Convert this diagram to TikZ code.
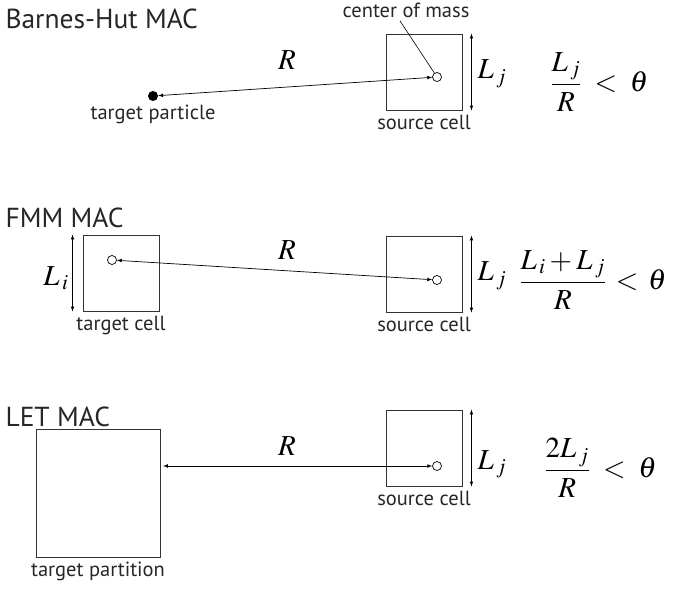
\documentclass[tikz,border=0pt]{standalone}
\usepackage{mathptmx}
\usepackage[no-math]{fontspec}
\setsansfont{PT Sans}
\usetikzlibrary{positioning}
\begin{document}
\begin{tikzpicture}[x=1pt,y=-1pt,>=latex,
    cell/.style={draw=black!80,line width=0.9pt,minimum size=76pt,inner sep=0pt},
    com/.style={draw,circle,line width=0.7pt,inner sep=0pt,minimum size=9pt},
    lbl/.style={font=\sffamily\fontsize{20.5}{22}\selectfont,text=black!85},
    ttl/.style={font=\sffamily\fontsize{27.5}{30}\selectfont,text=black!85,anchor=west},
    mth/.style={font=\fontsize{29}{32}\selectfont},
    dist/.style={<->,line width=0.7pt}]
  \useasboundingbox (0,0) rectangle (673,590);

  \node[ttl] (bhmac) at (2,19) {Barnes-Hut MAC};
  \node[cell] (src1) at (424,72) {};
  \node[com] (com1) at (437,77) {};
  \node[circle,fill,inner sep=0pt,minimum size=10pt] (tpart) at (153,96) {};
  \node[lbl,below=0pt of tpart] (tpartlbl) {target particle};
  \node[lbl,below=1pt of src1] (src1lbl) {source cell};
  \node[lbl] (comlbl) at (406,10) {center of mass};
  \draw[line width=0.6pt] ([xshift=-6pt]comlbl.south) -- (com1);
  \draw[dist] (tpart) -- (com1);
  \node[mth] (r1) at (287,60) {$R$};
  \draw[dist] ([xshift=9pt]src1.north east) -- ([xshift=9pt]src1.south east);
  \node[mth,anchor=west] (lj1) at (474,74) {$L_{\,j}$};
  \node[mth,anchor=west] (mac1) at (547,82) {$\displaystyle\frac{L_{\,j}}{R}\;<\;\theta$};

  \node[ttl] (fmmmac) at (2,218) {FMM MAC};
  \node[cell] (tgt2) at (121,273) {};
  \node[cell] (src2) at (424,274) {};
  \node[com] (com2a) at (112,260) {};
  \node[com] (com2b) at (437,280) {};
  \draw[dist] (com2a) -- (com2b);
  \draw[dist] ([xshift=-10pt]tgt2.north west) -- ([xshift=-10pt]tgt2.south west);
  \draw[dist] ([xshift=9pt]src2.north east) -- ([xshift=9pt]src2.south east);
  \node[mth,anchor=east] (li2) at (72,278) {$L_{\,i}$};
  \node[mth,anchor=west] (lj2) at (474,276) {$L_{\,j}$};
  \node[mth] (r2) at (287,250) {$R$};
  \node[lbl,below=1pt of tgt2] (tgt2lbl) {target cell};
  \node[lbl,below=1pt of src2] (src2lbl) {source cell};
  \node[mth,anchor=west] (mac2) at (516,280) {$\displaystyle\frac{L_{\,i}+L_{\,j}}{R}\,<\,\theta$};

  \node[ttl] (letmac) at (2,417) {LET MAC};
  \node[cell,minimum width=124pt,minimum height=128pt] (tpartn) at (98,493) {};
  \node[cell] (src3) at (424,448) {};
  \node[com] (com3) at (437,466) {};
  \coordinate (tpedge) at (163,466);
  \draw[dist] (tpedge) -- (com3);
  \draw[dist] ([xshift=9pt]src3.north east) -- ([xshift=9pt]src3.south east);
  \node[mth] (r3) at (287,446) {$R$};
  \node[mth,anchor=west] (lj3) at (474,464) {$L_{\,j}$};
  \node[lbl,below=1pt of tpartn] (tpartnlbl) {target partition};
  \node[lbl,below=1pt of src3] (src3lbl) {source cell};
  \node[mth,anchor=west] (mac3) at (541,468) {$\displaystyle\frac{2L_{\,j}}{R}\;<\;\theta$};
\end{tikzpicture}
\end{document}
